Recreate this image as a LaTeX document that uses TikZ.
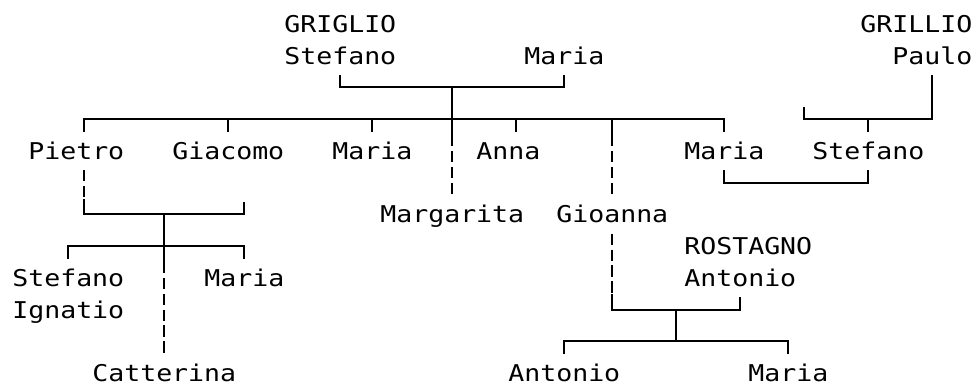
\documentclass[tikz,border=0pt]{standalone}
\usepackage{fontspec}
\newfontfamily\treefont[FakeStretch=1.15]{DejaVu Sans Mono}

\begin{document}
\begin{tikzpicture}[x=12pt, y=-23.8pt,
  nm/.style={anchor=west, inner sep=0pt, text height=12.6pt, text depth=0pt,
    minimum height=28.6pt, font=\treefont\fontsize{17.33pt}{20pt}\selectfont},
  kin/.style={line width=1.5pt},
  lineage/.style={line width=1.5pt, dash pattern=on 8.4pt off 3.5pt}]

\useasboundingbox (-1.25,-0.757) rectangle (59.75,11.39);

% first generation
\node[nm] (griglio) at (16.5,0) {GRIGLIO};
\node[nm] (stefanoG) at (16.5,1) {Stefano};
\node[nm] (mariaW) at (31.5,1) {Maria};
\node[nm] (grillio) at (52.5,0) {GRILLIO};
\node[nm] (paulo) at (54.5,1) {Paulo};

% children
\node[nm] (pietro) at (0.5,4) {Pietro};
\node[nm] (giacomo) at (9.5,4) {Giacomo};
\node[nm] (mariaB) at (19.5,4) {Maria};
\node[nm] (anna) at (28.5,4) {Anna};
\node[nm] (mariaC) at (41.5,4) {Maria};
\node[nm] (stefanoP) at (49.5,4) {Stefano};
\node[nm] (margarita) at (22.5,6) {Margarita};
\node[nm] (gioanna) at (33.5,6) {Gioanna};
\node[nm] (rostagno) at (41.5,7) {ROSTAGNO};
\node[nm] (antonioR) at (41.5,8) {Antonio};

% grandchildren
\node[nm] (stefanoI) at (-0.5,8) {Stefano};
\node[nm] (ignatio) at (-0.5,9) {Ignatio};
\node[nm] (mariaP) at (11.5,8) {Maria};
\node[nm] (catterina) at (4.5,11) {Catterina};
\node[nm] (antonioS) at (30.5,11) {Antonio};
\node[nm] (mariaS) at (45.5,11) {Maria};

\coordinate (wed1) at (27,2);
\coordinate (sib1) at (27,3);
\coordinate (d2) at (37,3.5);
\coordinate (wed2) at (53,3);
\coordinate (spouse2) at (49,2.6);
\coordinate (wed3) at (48.5,5);
\coordinate (d3) at (4,5.5);
\coordinate (wed4) at (9,6);
\coordinate (spouse4) at (14,5.6);
\coordinate (sib2) at (9,7);
\coordinate (d5) at (37,8.5);
\coordinate (wed5) at (41,9);
\coordinate (sib3) at (41,10);

% GRIGLIO Stefano + Maria
\draw[kin] ([xshift=42pt]stefanoG.south west) |- (wed1) -| ([xshift=30pt]mariaW.south west);
\draw[kin] (wed1) -- (sib1) -- ++(0,0.5) coordinate (d1);
\draw[lineage] (d1) -- ([xshift=54pt]margarita.north west);
\draw[kin] (sib1) -| ([xshift=42pt]pietro.north west);
\draw[kin] (sib1) -| ([xshift=42pt]giacomo.north west);
\draw[kin] (sib1) -| ([xshift=30pt]mariaB.north west);
\draw[kin] (sib1) -| ([xshift=30pt]anna.north west);
\draw[kin] (sib1) -| ([xshift=30pt]mariaC.north west);
\draw[kin] (sib1) -| (d2);
\draw[lineage] (d2) -- ([xshift=42pt]gioanna.north west);

% GRILLIO Paulo
\draw[kin] (spouse2) |- (wed2) -| ([xshift=30pt]paulo.south west);
\draw[kin] (wed2) -- ([xshift=42pt]stefanoP.north west);

% Maria + Stefano
\draw[kin] ([xshift=30pt]mariaC.south west) |- (wed3) -| ([xshift=42pt]stefanoP.south west);

% Pietro
\draw[lineage] ([xshift=42pt]pietro.south west) -- (d3);
\draw[kin] (d3) |- (wed4) -| (spouse4);
\draw[kin] (wed4) -- (sib2) -- ++(0,0.5) coordinate (d4);
\draw[kin] (sib2) -| ([xshift=42pt]stefanoI.north west);
\draw[kin] (sib2) -| ([xshift=30pt]mariaP.north west);
\draw[lineage] (d4) -- ([xshift=54pt]catterina.north west);

% Gioanna + ROSTAGNO Antonio
\draw[lineage] ([xshift=42pt]gioanna.south west) -- (d5);
\draw[kin] (d5) |- (wed5) -| ([xshift=42pt]antonioR.south west);
\draw[kin] (wed5) -- (sib3);
\draw[kin] (sib3) -| ([xshift=42pt]antonioS.north west);
\draw[kin] (sib3) -| ([xshift=30pt]mariaS.north west);

\end{tikzpicture}
\end{document}
